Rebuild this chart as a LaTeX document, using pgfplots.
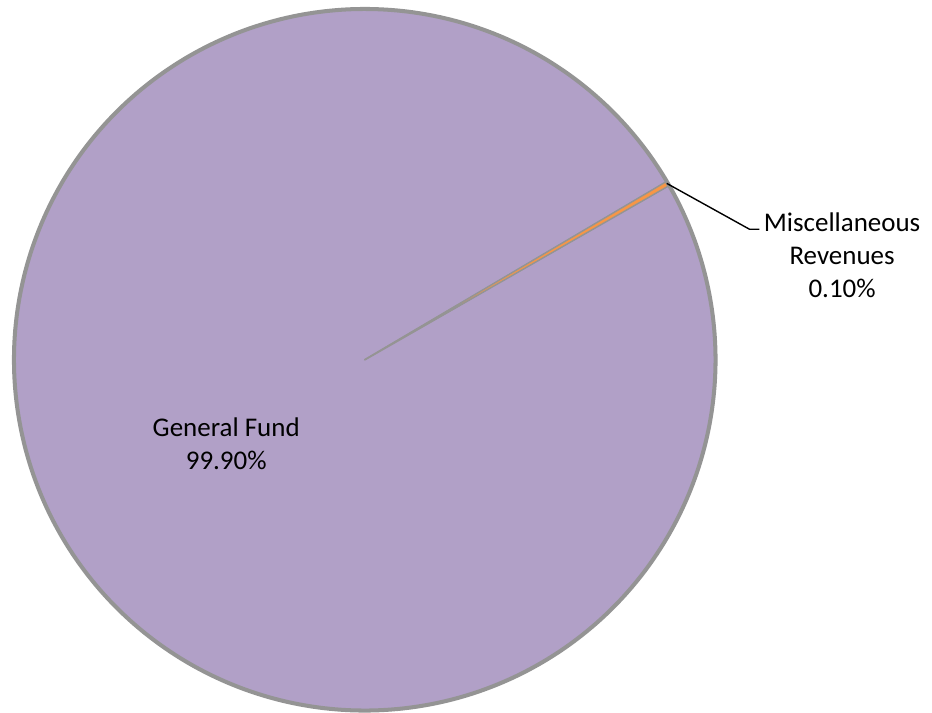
\documentclass[border=0pt]{standalone}
\usepackage{pgfplots}
\pgfplotsset{compat=1.18}
\usepackage{fontspec}
\setmainfont{Carlito}
\definecolor{gfcol}{RGB}{177,160,199}
\definecolor{misccol}{RGB}{247,150,70}
\definecolor{edgecol}{RGB}{148,148,148}
\def\gfval{99.9}
\def\miscval{0.1}
% slice spans from the values (the tiny slice is given a minimum visible width)
\pgfmathsetmacro\aS{29.8}
\pgfmathsetmacro\aM{\aS+max(3.6*\miscval,0.75)}
\pgfmathsetmacro\aE{\aS+360}
\begin{document}
\begin{tikzpicture}
\begin{axis}[
  width=9.32cm, height=7.14cm, scale only axis,
  xmin=0, xmax=932, ymin=0, ymax=714,
  hide axis, clip=false,
  font=\fontsize{7.7}{9.5}\selectfont,
]
\path[draw=none] (axis cs:0,0) rectangle (axis cs:932,714);
\addplot[fill=gfcol, draw=edgecol, line width=0.5pt, domain=\aM:\aE, samples=400, line join=round]
  ({366+352*cos(x)},{353+352*sin(x)}) -- (axis cs:366,353) -- cycle;
\addplot[fill=misccol, draw=edgecol, line width=0.3pt, domain=\aS:\aM, samples=5, line join=round]
  ({366+352*cos(x)},{353+352*sin(x)}) -- (axis cs:366,353) -- cycle;
\addplot[draw=edgecol, line width=1.15pt, domain=0:360, samples=400]
  ({366+352*cos(x)},{353+352*sin(x)});
\addplot[black, line width=0.4pt] coordinates {(669,530) (752,484) (762,484)};
\node[align=center, anchor=center] at (axis cs:227,269) {General Fund\\99.90\%};
\node[align=center, anchor=center] at (axis cs:845,458) {Miscellaneous\\Revenues\\0.10\%};
\end{axis}
\end{tikzpicture}
\end{document}
